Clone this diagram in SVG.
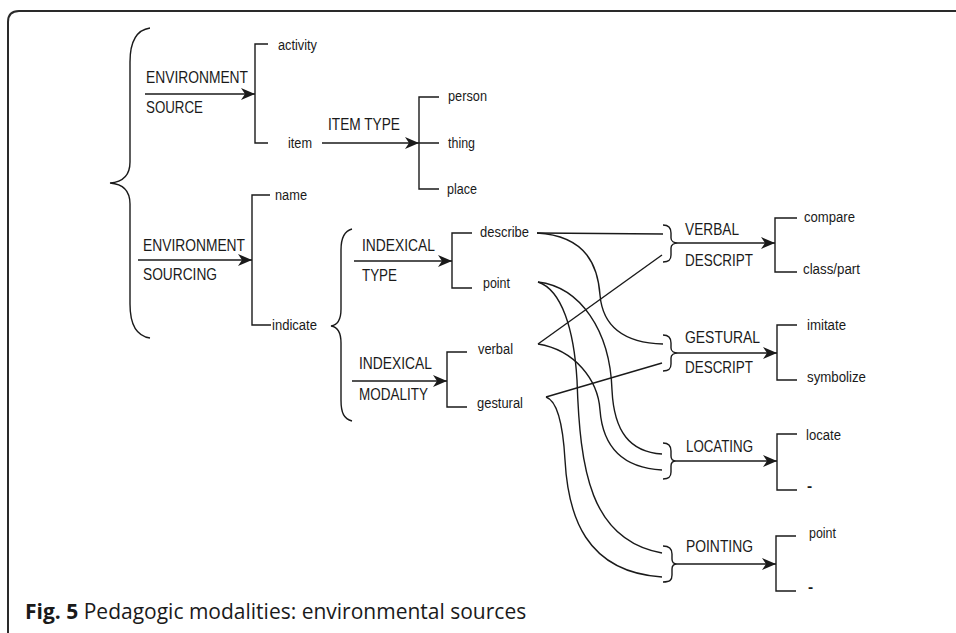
<svg xmlns="http://www.w3.org/2000/svg" width="956" height="633" viewBox="0 0 956 633">
<defs>
<marker id="ah" markerUnits="userSpaceOnUse" markerWidth="15" markerHeight="12" refX="14" refY="6" orient="auto">
<path d="M0,0 L14,6 L0,12 L4,6 z" fill="#1a1a1a"/>
</marker>
<style>
.ln{fill:none;stroke:#1a1a1a;stroke-width:1.4}
.ar{fill:none;stroke:#1a1a1a;stroke-width:1.6;marker-end:url(#ah)}
.cap{font-family:"Liberation Sans",Arial,sans-serif;font-size:16.5px;fill:#1a1a1a}
.low{font-family:"Liberation Sans",Arial,sans-serif;font-size:15.5px;fill:#1a1a1a}
.fig{font-family:"Open Sans","Noto Sans",sans-serif;font-size:21px;fill:#1a1a1a}
</style>
</defs>
<rect width="956" height="633" fill="#fff"/>
<path d="M8,633 L8,22 Q8,11 19,11 L956,11" fill="none" stroke="#2a2a2a" stroke-width="2"/>

<g id="root-brace">
<path class="ln" d="M150,28 C136,30 130,42 130,62 L130,162 C130,176 123,182 110,183 C123,184 130,190 130,204 L130,304 C130,324 136,336 150,338"/>
</g>

<g id="environment-source">
<text class="cap" x="146" y="83" textLength="102" lengthAdjust="spacingAndGlyphs">ENVIRONMENT</text>
<text class="cap" x="146" y="113" textLength="57" lengthAdjust="spacingAndGlyphs">SOURCE</text>
<path class="ln" d="M268,44 H255 V143 H268"/>
</g>
<g id="activity"><text class="low" x="278" y="50" textLength="39" lengthAdjust="spacingAndGlyphs">activity</text></g>
<g id="item"><text class="low" x="288" y="148" textLength="24" lengthAdjust="spacingAndGlyphs">item</text></g>

<g id="item-type">
<text class="cap" x="328" y="130" textLength="72" lengthAdjust="spacingAndGlyphs">ITEM TYPE</text>
<path class="ln" d="M439,97 H419 V189 H439 M419,143 H439"/>
</g>
<g id="person"><text class="low" x="448" y="101" textLength="39" lengthAdjust="spacingAndGlyphs">person</text></g>
<g id="thing"><text class="low" x="448" y="148" textLength="27" lengthAdjust="spacingAndGlyphs">thing</text></g>
<g id="place"><text class="low" x="447" y="194" textLength="30" lengthAdjust="spacingAndGlyphs">place</text></g>

<g id="environment-sourcing">
<text class="cap" x="143" y="251" textLength="102" lengthAdjust="spacingAndGlyphs">ENVIRONMENT</text>
<text class="cap" x="143" y="280" textLength="74" lengthAdjust="spacingAndGlyphs">SOURCING</text>
<path class="ln" d="M270,195 H252 V325 H271"/>
</g>
<g id="name"><text class="low" x="275" y="200" textLength="32" lengthAdjust="spacingAndGlyphs">name</text></g>
<g id="indicate">
<text class="low" x="272" y="330" textLength="45" lengthAdjust="spacingAndGlyphs">indicate</text>
<path class="ln" d="M352,229 C344,231 341,238 341,250 L341,309 C341,319 338,325 331,326 C338,327 341,333 341,343 L341,400 C341,413 344,419 352,421"/>
</g>

<g id="indexical-type">
<text class="cap" x="362" y="251" textLength="73" lengthAdjust="spacingAndGlyphs">INDEXICAL</text>
<text class="cap" x="362" y="281" textLength="35" lengthAdjust="spacingAndGlyphs">TYPE</text>
<path class="ln" d="M472,233 H452 V288 H472"/>
</g>
<g id="describe"><text class="low" x="480" y="237" textLength="49" lengthAdjust="spacingAndGlyphs">describe</text></g>
<g id="point"><text class="low" x="483" y="288" textLength="27" lengthAdjust="spacingAndGlyphs">point</text></g>

<g id="indexical-modality">
<text class="cap" x="359" y="369" textLength="73" lengthAdjust="spacingAndGlyphs">INDEXICAL</text>
<text class="cap" x="359" y="400" textLength="69" lengthAdjust="spacingAndGlyphs">MODALITY</text>
<path class="ln" d="M467,352 H447 V407 H467"/>
</g>
<g id="verbal"><text class="low" x="478" y="354" textLength="35" lengthAdjust="spacingAndGlyphs">verbal</text></g>
<g id="gestural"><text class="low" x="477" y="408" textLength="46" lengthAdjust="spacingAndGlyphs">gestural</text></g>

<g id="verbal-descript">
<path class="ln" d="M663,225 C669,225 671,228 671,233 L671,238 C671,241 674,243 678,243 C674,243 671,245 671,248 L671,255 C671,260 669,262 663,262"/>
<text class="cap" x="685" y="235" textLength="54" lengthAdjust="spacingAndGlyphs">VERBAL</text>
<text class="cap" x="685" y="266" textLength="68" lengthAdjust="spacingAndGlyphs">DESCRIPT</text>
<path class="ln" d="M797,218 H775 V272 H797"/>
</g>
<g id="compare"><text class="low" x="804" y="222" textLength="51" lengthAdjust="spacingAndGlyphs">compare</text></g>
<g id="class-part"><text class="low" x="803" y="274" textLength="57" lengthAdjust="spacingAndGlyphs">class/part</text></g>

<g id="gestural-descript">
<path class="ln" d="M663,335 C669,335 671,338 671,343 L671,348 C671,351 674,353 678,353 C674,353 671,355 671,358 L671,364 C671,369 669,371 663,371"/>
<text class="cap" x="685" y="343" textLength="75" lengthAdjust="spacingAndGlyphs">GESTURAL</text>
<text class="cap" x="685" y="373" textLength="68" lengthAdjust="spacingAndGlyphs">DESCRIPT</text>
<path class="ln" d="M797,325 H777 V380 H797"/>
</g>
<g id="imitate"><text class="low" x="807" y="330" textLength="39" lengthAdjust="spacingAndGlyphs">imitate</text></g>
<g id="symbolize"><text class="low" x="807" y="382" textLength="59" lengthAdjust="spacingAndGlyphs">symbolize</text></g>

<g id="locating">
<path class="ln" d="M663,443 C669,443 671,446 671,451 L671,456 C671,459 673,461 676,461 C673,461 671,463 671,466 L671,472 C671,477 669,479 663,479"/>
<text class="cap" x="686" y="452" textLength="67" lengthAdjust="spacingAndGlyphs">LOCATING</text>
<path class="ln" d="M797,434 H777 V490 H797"/>
</g>
<g id="locate"><text class="low" x="806" y="440" textLength="35" lengthAdjust="spacingAndGlyphs">locate</text></g>
<g id="locate-dash"><text class="low" x="807" y="491" font-weight="bold">-</text></g>

<g id="pointing">
<path class="ln" d="M663,546 C669,546 672,549 672,554 L672,559 C672,562 674,564 677,564 C674,564 672,566 672,569 L672,575 C672,580 670,582 663,582"/>
<text class="cap" x="686" y="552" textLength="67" lengthAdjust="spacingAndGlyphs">POINTING</text>
<path class="ln" d="M796,536 H776 V591 H796"/>
</g>
<g id="point-2"><text class="low" x="809" y="538" textLength="27" lengthAdjust="spacingAndGlyphs">point</text></g>
<g id="point-dash"><text class="low" x="808" y="592" font-weight="bold">-</text></g>

<g id="connectors">
<line class="ar" x1="145" y1="94" x2="255" y2="94"/>
<line class="ar" x1="322" y1="143" x2="419" y2="143"/>
<line class="ar" x1="138" y1="260" x2="252" y2="260"/>
<line class="ar" x1="354" y1="261" x2="452" y2="261"/>
<line class="ar" x1="352" y1="381" x2="447" y2="381"/>
<line class="ar" x1="678" y1="243" x2="775" y2="243"/>
<line class="ar" x1="678" y1="353" x2="777" y2="353"/>
<line class="ar" x1="676" y1="461" x2="777" y2="461"/>
<line class="ar" x1="677" y1="564" x2="776" y2="564"/>
<path class="ln" d="M537,233 L663,234"/>
<path class="ln" d="M537,233 C588,236 598,268 600,295 C603,330 628,343 663,344"/>
<path class="ln" d="M538,282 C580,287 610,330 612,390 C614,432 630,452 662,454"/>
<path class="ln" d="M538,282 C562,290 574,330 577,380 C580,470 590,540 662,553"/>
<path class="ln" d="M538,344 L662,255"/>
<path class="ln" d="M538,344 C575,350 598,380 600,410 C603,450 625,468 662,470"/>
<path class="ln" d="M546,397 L662,363"/>
<path class="ln" d="M546,397 C558,401 563,425 565,460 C568,515 585,572 662,577"/>
</g>

<g id="caption">
<text class="fig" x="25" y="619"><tspan font-weight="bold">Fig. 5</tspan> Pedagogic modalities: environmental sources</text>
</g>
</svg>
